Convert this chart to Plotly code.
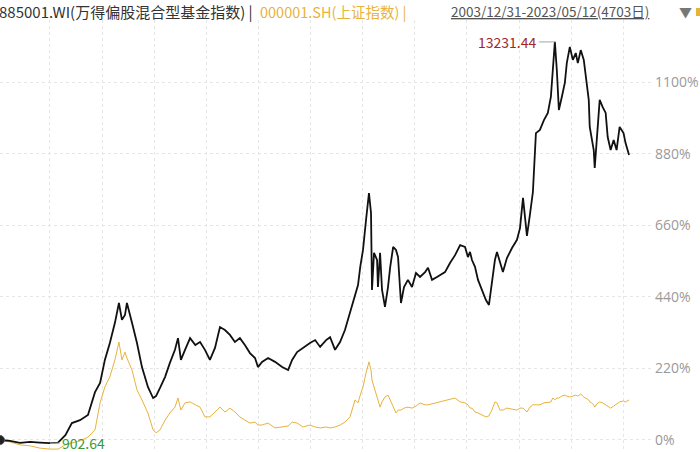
import plotly.graph_objects as go
import pandas as pd

dates = [
    "2003-12-31", "2004-04-21", "2004-08-12", "2004-12-03", "2005-03-24", "2005-07-15", "2005-10-13",
    "2006-01-04", "2006-03-18", "2006-06-17", "2006-09-15", "2006-12-03", "2007-01-29", "2007-03-24",
    "2007-05-19", "2007-07-15", "2007-08-29", "2007-10-02", "2007-11-05", "2007-11-27", "2008-01-23",
    "2008-03-19", "2008-05-14", "2008-07-20", "2008-09-16", "2008-10-19", "2008-12-03", "2009-01-29",
    "2009-03-24", "2009-05-20", "2009-06-23", "2009-07-26", "2009-09-10", "2009-11-06", "2010-01-04",
    "2010-02-26", "2010-04-22", "2010-06-17", "2010-08-13", "2010-10-08", "2010-12-03", "2011-01-28",
    "2011-03-25", "2011-05-20", "2011-07-15", "2011-09-10", "2011-11-06", "2011-12-09", "2012-01-24",
    "2012-04-01", "2012-06-18", "2012-09-06", "2012-11-12", "2012-12-27", "2013-02-21", "2013-04-28",
    "2013-07-16", "2013-09-12", "2013-11-07", "2014-01-13", "2014-02-27", "2014-04-24", "2014-06-19",
    "2014-08-13", "2014-10-09", "2014-12-04", "2015-01-07", "2015-02-01", "2015-03-04", "2015-04-07",
    "2015-05-10", "2015-06-02", "2015-06-13", "2015-07-06", "2015-08-09", "2015-08-19", "2015-09-12",
    "2015-10-04", "2015-11-06", "2015-12-10", "2016-01-04", "2016-02-06", "2016-03-09", "2016-04-01",
    "2016-04-24", "2016-05-04", "2016-06-07", "2016-07-21", "2016-09-05", "2016-10-20", "2016-12-04",
    "2017-01-30", "2017-03-04", "2017-04-18", "2017-06-13", "2017-07-16", "2017-09-11", "2017-11-06",
    "2018-01-02", "2018-02-28", "2018-04-24", "2018-05-27", "2018-06-19", "2018-07-11", "2018-08-14",
    "2018-09-17", "2018-10-31", "2018-12-15", "2019-01-18", "2019-02-20", "2019-03-26", "2019-04-18",
    "2019-05-21", "2019-06-24", "2019-08-08", "2019-10-04", "2019-11-29", "2020-01-02", "2020-02-05",
    "2020-03-20", "2020-04-22", "2020-05-26", "2020-06-29", "2020-08-13", "2020-09-27", "2020-11-10",
    "2020-12-14", "2021-01-05", "2021-01-28", "2021-02-19", "2021-03-14", "2021-04-16", "2021-05-20",
    "2021-06-11", "2021-07-15", "2021-08-18", "2021-09-20", "2021-10-13", "2021-11-15", "2021-12-19",
    "2022-01-21", "2022-02-13", "2022-02-24", "2022-03-18", "2022-04-10", "2022-04-21", "2022-05-14",
    "2022-06-16", "2022-07-20", "2022-08-22", "2022-09-14", "2022-10-17", "2022-11-20", "2022-12-23",
    "2023-01-26", "2023-03-11", "2023-04-02", "2023-05-12",
]

# 885001.WI cumulative change (%)
fund_pct = [
    0, -3, -9, -6, -8, -9.736, -8,
    15, 52, 61, 77, 147, 175, 246,
    298, 360, 421, 369, 384, 421, 360,
    298, 224, 163, 129, 135, 160, 194,
    237, 277, 313, 246, 277, 313, 292,
    301, 277, 246, 283, 347, 338, 323,
    301, 313, 292, 267, 252, 224, 240,
    252, 240, 224, 215, 246, 270, 283,
    298, 307, 286, 307, 316, 277, 301,
    338, 390, 439, 476, 532, 584, 676,
    759, 698, 461, 575, 553, 470, 575,
    461, 409, 470, 532, 593, 584, 562,
    470, 421, 470, 492, 470, 513, 501,
    516, 529, 492, 501, 507, 516, 544,
    568, 599, 593, 562, 578, 553, 532,
    492, 461, 430, 415, 476, 553, 578,
    547, 516, 559, 590, 615, 651, 744,
    627, 691, 762, 943, 953, 983, 1005,
    1054, 1128, 1223.144, 1137, 1014, 1054, 1097,
    1158, 1208, 1168, 1189, 1158, 1198, 1168,
    1097, 1045, 962, 931, 891, 836, 913,
    1045, 1023, 1005, 931, 891, 922, 891,
    962, 943, 913, 876,
]

# 000001.SH cumulative change (%)
sh_pct = [
    0, -6, -15, -18, -25, -28, -28,
    -15, -9, -3, 9, 31, 114, 163,
    194, 246, 301, 246, 270, 252, 215,
    154, 123, 83, 31, 22, 31, 61,
    83, 101, 129, 92, 114, 117, 108,
    101, 71, 71, 86, 101, 86, 98,
    86, 71, 61, 52, 55, 46, 46,
    52, 37, 40, 43, 55, 52, 40,
    46, 40, 37, 40, 37, 40, 46,
    55, 71, 123, 114, 138, 163, 206,
    240, 215, 184, 163, 132, 123, 101,
    117, 132, 138, 123, 101, 83, 92,
    92, 92, 98, 101, 98, 104, 114,
    108, 108, 111, 114, 117, 120, 123,
    129, 117, 114, 108, 98, 98, 86,
    83, 77, 71, 74, 92, 117, 114,
    92, 92, 98, 95, 92, 98, 98,
    86, 101, 108, 108, 108, 114, 117,
    117, 129, 123, 129, 129, 135, 138,
    135, 132, 135, 138, 135, 141, 132,
    126, 123, 117, 114, 108, 101, 111,
    117, 114, 108, 104, 98, 104, 111,
    117, 120, 117, 123,
]

y_ticks = [0, 220, 440, 660, 880, 1100]
y_tick_labels = [f"{v}%" for v in y_ticks]

peak_label = "13231.44"
min_label = "902.64"
title_main = "885001.WI(万得偏股混合型基金指数) |"
title_sh = "000001.SH(上证指数) |"
title_range = "2003/12/31-2023/05/12(4703日)"

BLACK = "#111111"
GOLD = "#e8b33c"
FONT = "Noto Sans CJK SC, Noto Sans, sans-serif"

dt = pd.to_datetime(dates)
start = dt[0]
grid_dates = [start + pd.Timedelta(days=562 + 586 * k) for k in range(12)]

fig = go.Figure()
fig.add_trace(go.Scatter(x=dt, y=sh_pct, mode="lines",
                         line=dict(color=GOLD, width=1), hoverinfo="skip"))
fig.add_trace(go.Scatter(x=dt, y=fund_pct, mode="lines",
                         line=dict(color=BLACK, width=1.8), hoverinfo="skip"))
fig.add_trace(go.Scatter(x=[dt[0]], y=[fund_pct[0]], mode="markers",
                         marker=dict(color="#222", size=9, line=dict(color="#555", width=1)),
                         hoverinfo="skip"))

imax = fund_pct.index(max(fund_pct))
imin = fund_pct.index(min(fund_pct))

fig.add_annotation(x=dt[imax], y=fund_pct[imax], text=peak_label, showarrow=True,
                   ax=-16, ay=0, xanchor="right", arrowhead=0, arrowwidth=1,
                   arrowcolor="#9aa8b0", font=dict(family=FONT, size=14, color="#a3262a"))
fig.add_annotation(x=dt[imin], y=fund_pct[imin], text=min_label, showarrow=True,
                   ax=10, ay=0, xanchor="left", arrowhead=0, arrowwidth=1,
                   arrowcolor="#b8c4c8", font=dict(family=FONT, size=14, color="#3a9a3a"))

W = 652.0
H = 432.0
ty = 1 + 9 / H
fig.add_annotation(xref="paper", yref="paper", x=-3 / W, y=ty, text=title_main, showarrow=False,
                   xanchor="left", yanchor="middle", font=dict(family=FONT, size=15, color="#333"))
fig.add_annotation(xref="paper", yref="paper", x=258 / W, y=ty, text=title_sh, showarrow=False,
                   xanchor="left", yanchor="middle", font=dict(family=FONT, size=14.5, color=GOLD))
fig.add_annotation(xref="paper", yref="paper", x=449 / W, y=ty, text=title_range, showarrow=False,
                   xanchor="left", yanchor="middle",
                   font=dict(family=FONT, size=13.5, color="#555", lineposition="under"))
fig.add_annotation(xref="paper", yref="paper", x=677 / W, y=ty, text="▼", showarrow=False,
                   xanchor="left", yanchor="middle", font=dict(family=FONT, size=13, color="#777"))
fig.add_shape(type="rect", xref="paper", yref="paper", x0=696 / W, x1=701 / W,
              y0=1 + 4 / H, y1=1 + 12 / H, fillcolor=GOLD, line=dict(width=0))

fig.update_layout(
    width=700, height=452,
    margin=dict(l=0, r=48, t=20, b=0),
    paper_bgcolor="white", plot_bgcolor="white",
    showlegend=False,
    xaxis=dict(range=[start, start + pd.Timedelta(days=7330)], tickvals=grid_dates,
               showticklabels=False, ticks="", showgrid=True, gridcolor="#e6e6e6",
               griddash="dot", gridwidth=1, zeroline=False, showline=False),
    yaxis=dict(range=[-36.9, 1290.5], side="right", tickvals=y_ticks, ticktext=y_tick_labels,
               showgrid=True, gridcolor="#e6e6e6", griddash="dot", gridwidth=1,
               zeroline=False, showline=False, ticks="", ticklabelstandoff=2,
               tickfont=dict(family="Open Sans, sans-serif", size=14, color="#9a9a9a")),
)

fig.write_html("out.html")
